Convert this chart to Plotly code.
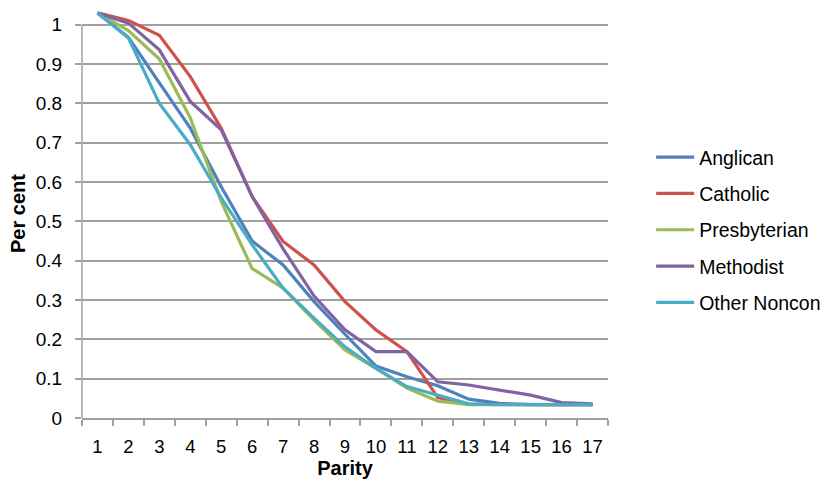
import plotly.graph_objects as go

# Parity categories
parity = list(range(1, 18))

# Share of women reaching each parity, by denomination
anglican = [1.03, 0.968, 0.852, 0.737, 0.588, 0.450, 0.389, 0.296, 0.213, 0.132,
            0.105, 0.082, 0.048, 0.037, 0.034, 0.034, 0.034]
catholic = [1.03, 1.011, 0.973, 0.868, 0.737, 0.563, 0.449, 0.389, 0.296, 0.224,
            0.169, 0.052, 0.035, 0.034, 0.034, 0.034, 0.034]
presbyterian = [1.03, 0.985, 0.913, 0.763, 0.550, 0.380, 0.330, 0.249, 0.173, 0.126,
                0.076, 0.043, 0.034, 0.034, 0.034, 0.034, 0.034]
methodist = [1.03, 1.004, 0.936, 0.805, 0.733, 0.563, 0.430, 0.310, 0.224, 0.169,
             0.169, 0.092, 0.084, 0.070, 0.058, 0.039, 0.036]
other_noncon = [1.03, 0.966, 0.800, 0.695, 0.560, 0.440, 0.330, 0.254, 0.181, 0.126,
                0.080, 0.058, 0.036, 0.034, 0.034, 0.034, 0.034]

series = [
    ("Anglican", anglican, "#4F81BD"),
    ("Catholic", catholic, "#D0504D"),
    ("Presbyterian", presbyterian, "#9BBB59"),
    ("Methodist", methodist, "#8064A2"),
    ("Other Noncon", other_noncon, "#4BACC6"),
]

y_ticks = [round(i / 10, 1) for i in range(11)]
y_ticktext = ["0", "0.1", "0.2", "0.3", "0.4", "0.5", "0.6", "0.7", "0.8", "0.9", "1"]

FONT = "Liberation Sans, Arial, Helvetica, sans-serif"
GRID = "#A0A0A0"

fig = go.Figure()
for name, vals, color in series:
    fig.add_trace(go.Scatter(
        x=parity, y=vals, name=name, mode="lines",
        line=dict(color=color, width=3.2),
        legendgroup=name,
    ))

fig.update_layout(
    width=826, height=482,
    margin=dict(l=82, r=218, t=9, b=64, autoexpand=False),
    paper_bgcolor="white", plot_bgcolor="white",
    font=dict(family=FONT, size=18, color="black"),
    showlegend=True,
    legend=dict(
        x=1.082, xanchor="left", y=0.46, yanchor="middle",
        font=dict(size=19.5, color="black"),
        tracegroupgap=8,
        itemwidth=38,
        bgcolor="rgba(0,0,0,0)",
    ),
    xaxis=dict(
        range=[0.5, 17.5],
        tickmode="array", tickvals=parity, ticktext=[str(p) for p in parity],
        ticks="", showgrid=False,
        showline=True, linecolor=GRID, linewidth=1.5,
        ticklabelstandoff=11,
        tickfont=dict(size=18.5),
        minor=dict(tick0=0.5, dtick=1, ticks="outside", ticklen=6,
                   tickcolor=GRID, tickwidth=1.5, showgrid=False),
        title=dict(text="<b>Parity</b>", font=dict(size=20), standoff=2),
        zeroline=False,
    ),
    yaxis=dict(
        range=[0, 1.04],
        tickmode="array", tickvals=y_ticks, ticktext=y_ticktext,
        ticks="outside", ticklen=6, tickcolor=GRID, tickwidth=1.5,
        ticklabelstandoff=9,
        tickfont=dict(size=19),
        showgrid=True, gridcolor=GRID, gridwidth=1.5,
        showline=False, zeroline=False,
        title=dict(text="<b>Per cent</b>", font=dict(size=20), standoff=4),
    ),
)

# Left axis line, running from 0 up to the top gridline
fig.add_shape(type="line", xref="paper", yref="y", x0=0, x1=0, y0=0, y1=1,
              line=dict(color=GRID, width=1.5), layer="below")

fig.write_html("out.html")
